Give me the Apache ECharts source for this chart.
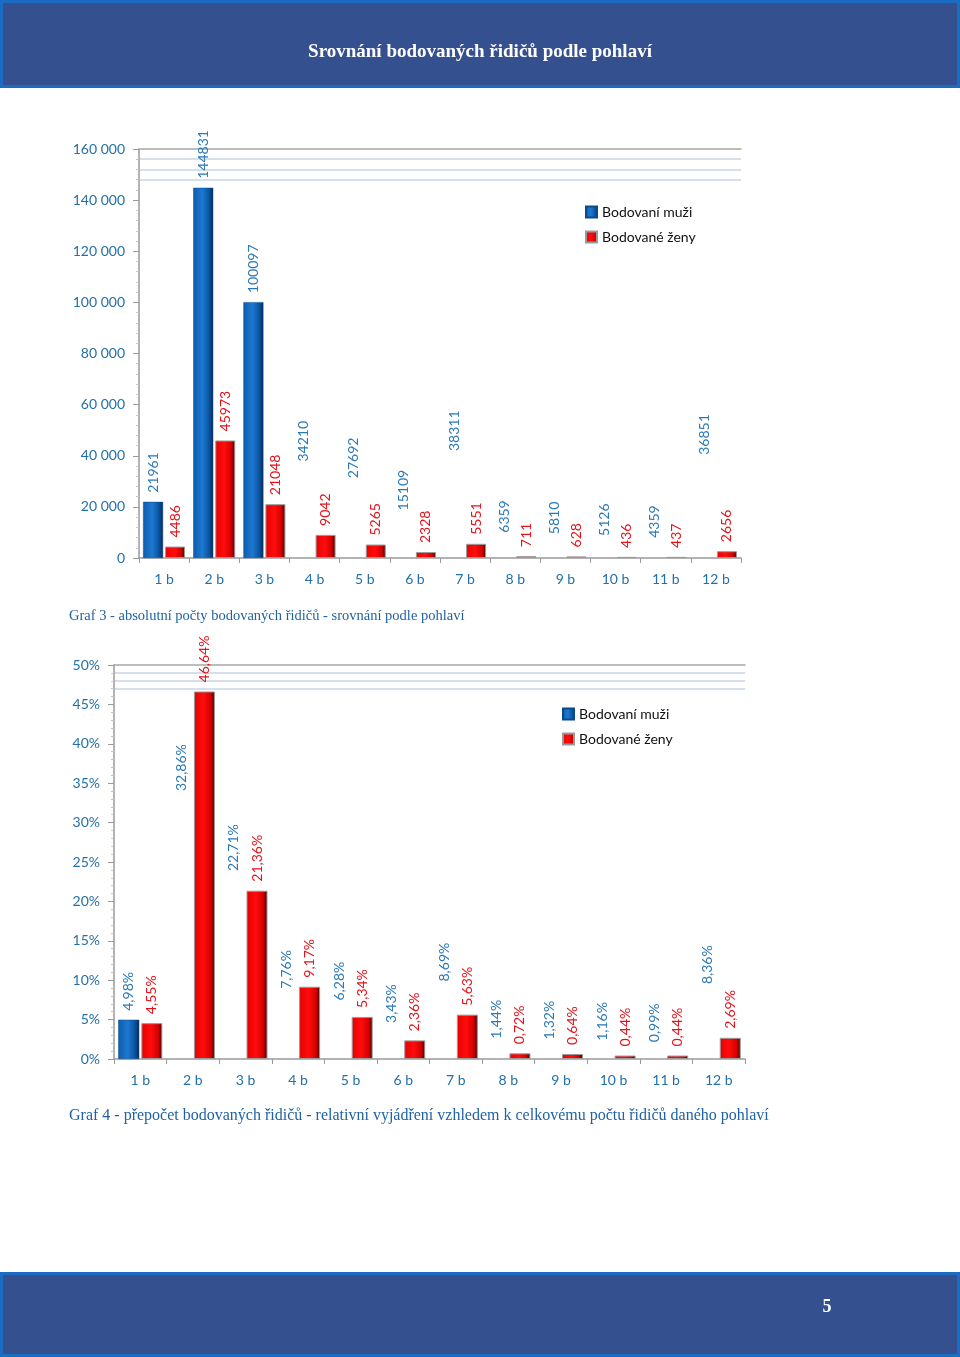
<!DOCTYPE html>
<html>
<head>
<meta charset="utf-8">
<script src="https://cdn.jsdelivr.net/npm/echarts@6/dist/echarts.min.js"></script>
<style>
html,body{margin:0;padding:0;background:#ffffff;}
#c{width:960px;height:1357px;}
</style>
</head>
<body>
<div id="c"></div>
<script>
// ---------- data ----------
const categories = ['1 b','2 b','3 b','4 b','5 b','6 b','7 b','8 b','9 b','10 b','11 b','12 b'];
const seriesNames = ['Bodovaní muži','Bodované ženy'];
const menAbs   = [21961,144831,100097,34210,27692,15109,38311,6359,5810,5126,4359,36851];
const womenAbs = [4486,45973,21048,9042,5265,2328,5551,711,628,436,437,2656];
const menPct   = [4.98,32.86,22.71,7.76,6.28,3.43,8.69,1.44,1.32,1.16,0.99,8.36];
const womenPct = [4.55,46.64,21.36,9.17,5.34,2.36,5.63,0.72,0.64,0.44,0.44,2.69];
const absAxisTicks = [0,20000,40000,60000,80000,100000,120000,140000,160000];
const pctAxisTicks = [0,5,10,15,20,25,30,35,40,45,50];
// men bars that are actually rendered in the reference picture
const menBarsShownAbs = ['1 b','2 b','3 b'];
const menBarsShownPct = ['1 b'];
// faint guide lines near the top of each plot
const absFaintLines = [156000,152000,148000];
const pctFaintLines = [49,48,47];

const pageTitle = 'Srovnání bodovaných řidičů podle pohlaví';
const caption1 = 'Graf 3 - absolutní počty bodovaných řidičů - srovnání podle pohlaví';
const caption2 = 'Graf 4 - přepočet bodovaných řidičů - relativní vyjádření vzhledem k celkovému počtu řidičů daného pohlaví';
const pageNumber = '5';

// ---------- styles ----------
const FONT = 'Lato';
const SERIF = '"Liberation Serif","DejaVu Serif",serif';
const axisBlue = '#2470a8';
const menLabel = '#2a78b8';
const womenLabel = '#e5121a';
const blueGrad = {type:'linear',x:0,y:0,x2:1,y2:0,colorStops:[
  {offset:0,color:'#0d5cae'},{offset:0.45,color:'#1d79d0'},{offset:0.78,color:'#0b55a2'},{offset:1,color:'#072a52'}]};
const redGrad = {type:'linear',x:0,y:0,x2:1,y2:0,colorStops:[
  {offset:0,color:'#e80000'},{offset:0.45,color:'#ff0d0d'},{offset:0.8,color:'#d40000'},{offset:1,color:'#3c0000'}]};

function thousands(v){ return String(v).replace(/\B(?=(\d{3})+(?!\d))/g,' '); }
function pct(v){ return v.toFixed(2).replace('.',',') + '%'; }

function menData(values, shown){
  return values.map((v,i)=> shown.includes(categories[i]) ? v :
    {value:v, itemStyle:{color:'rgba(0,0,0,0)', borderWidth:0, shadowBlur:0}});
}

function labelCfg(color, fmt){
  return {show:true, position:'top', rotate:90, align:'left', verticalAlign:'middle',
    distance:9, color:color, fontFamily:FONT, fontSize:14, formatter:p=>fmt(p.value)};
}

function faintMarkLine(vals){
  return {silent:true, z:0, symbol:'none', animation:false,
    label:{show:false}, lineStyle:{color:'#c8d6e6', type:'solid', width:1.5},
    data: vals.map(v=>({yAxis:v}))};
}

const chart = echarts.init(document.getElementById('c'), null, {renderer:'canvas'});

const xAxisBase = {
  type:'category', data:categories,
  axisLine:{show:true, lineStyle:{color:'#9a9a9a', width:1.5}},
  axisTick:{show:true, length:5, lineStyle:{color:'#9a9a9a'}},
  axisLabel:{color:axisBlue, fontFamily:FONT, fontSize:14, margin:14},
  splitLine:{show:false}
};
const topAxisBase = {
  type:'category', data:categories, position:'top',
  axisLine:{show:true, lineStyle:{color:'#a8a8a8', width:1.5}},
  axisTick:{show:false}, axisLabel:{show:false}, splitLine:{show:false}
};
const yAxisBase = {
  type:'value',
  axisLine:{show:true, lineStyle:{color:'#9a9a9a', width:1.5}},
  axisTick:{show:true, inside:false, length:6, lineStyle:{color:'#9a9a9a'}},
  minorTick:{show:true, splitNumber:5, length:3, lineStyle:{color:'#c8c8c8'}},
  splitLine:{show:false},
  axisLabel:{color:axisBlue, fontFamily:FONT, fontSize:14, margin:14}
};

const option = {
  backgroundColor:'#ffffff',
  animation:false,
  textStyle:{fontFamily:FONT},
  graphic:[
    {type:'rect', shape:{x:1.5,y:1.5,width:957,height:85}, style:{fill:'#35508f', stroke:'#1d6cc3', lineWidth:3}},
    {type:'text', x:480, y:52, style:{text:pageTitle, fill:'#ffffff', font:'bold 19px '+SERIF, textAlign:'center', textVerticalAlign:'middle'}},
    {type:'rect', shape:{x:1.5,y:1273.5,width:957,height:82}, style:{fill:'#35508f', stroke:'#1d6cc3', lineWidth:3}},
    {type:'text', x:827, y:1307, style:{text:pageNumber, fill:'#ffffff', font:'bold 18px '+SERIF, textAlign:'center', textVerticalAlign:'middle'}},
    {type:'text', x:69, y:616, style:{text:caption1, fill:'#1f62a4', font:'14.5px '+SERIF, textAlign:'left', textVerticalAlign:'middle'}},
    {type:'text', x:69, y:1116, style:{text:caption2, fill:'#1f62a4', font:'16px '+SERIF, textAlign:'left', textVerticalAlign:'middle'}}
  ],
  legend:[
    {data:seriesNames, orient:'vertical', left:580, top:200, itemGap:11, itemWidth:11, itemHeight:11, icon:'rect',
      textStyle:{color:'#111', fontFamily:FONT, fontSize:14}, selectedMode:false},
    {data:seriesNames, orient:'vertical', left:557, top:702, itemGap:11, itemWidth:11, itemHeight:11, icon:'rect',
      textStyle:{color:'#111', fontFamily:FONT, fontSize:14}, selectedMode:false}
  ],
  grid:[
    {left:139, top:149, width:602, height:409},
    {left:114, top:665, width:631, height:394}
  ],
  xAxis:[
    Object.assign({}, xAxisBase, {gridIndex:0}),
    Object.assign({}, xAxisBase, {gridIndex:1}),
    Object.assign({}, topAxisBase, {gridIndex:0}),
    Object.assign({}, topAxisBase, {gridIndex:1})
  ],
  yAxis:[
    Object.assign({}, yAxisBase, {gridIndex:0, min:absAxisTicks[0], max:absAxisTicks[absAxisTicks.length-1],
      interval:absAxisTicks[1]-absAxisTicks[0], axisLabel:Object.assign({}, yAxisBase.axisLabel, {formatter:v=>thousands(v)})}),
    Object.assign({}, yAxisBase, {gridIndex:1, min:pctAxisTicks[0], max:pctAxisTicks[pctAxisTicks.length-1],
      interval:pctAxisTicks[1]-pctAxisTicks[0], axisLabel:Object.assign({}, yAxisBase.axisLabel, {formatter:v=>v+'%'})})
  ],
  series:[
    {name:seriesNames[0], type:'bar', xAxisIndex:0, yAxisIndex:0, z:1, data:menData(menAbs, menBarsShownAbs),
      barWidth:20, barGap:'10%', itemStyle:{color:blueGrad, borderColor:'#0a4a8c', borderWidth:0.5},
      label:labelCfg(menLabel, v=>String(v)), markLine:faintMarkLine(absFaintLines)},
    {name:seriesNames[1], type:'bar', xAxisIndex:0, yAxisIndex:0, z:3, data:womenAbs,
      barWidth:20, barGap:'10%', itemStyle:{color:redGrad, borderColor:'#9a9a9a', borderWidth:1},
      label:labelCfg(womenLabel, v=>String(v))},
    {name:seriesNames[0], type:'bar', xAxisIndex:1, yAxisIndex:1, z:1, data:menData(menPct, menBarsShownPct),
      barWidth:21, barGap:'10%', itemStyle:{color:blueGrad, borderColor:'#0a4a8c', borderWidth:0.5},
      label:labelCfg(menLabel, pct), markLine:faintMarkLine(pctFaintLines)},
    {name:seriesNames[1], type:'bar', xAxisIndex:1, yAxisIndex:1, z:3, data:womenPct,
      barWidth:21, barGap:'10%', itemStyle:{color:redGrad, borderColor:'#9a9a9a', borderWidth:1},
      label:labelCfg(womenLabel, pct)}
  ]
};
chart.setOption(option);
</script>
</body>
</html>
